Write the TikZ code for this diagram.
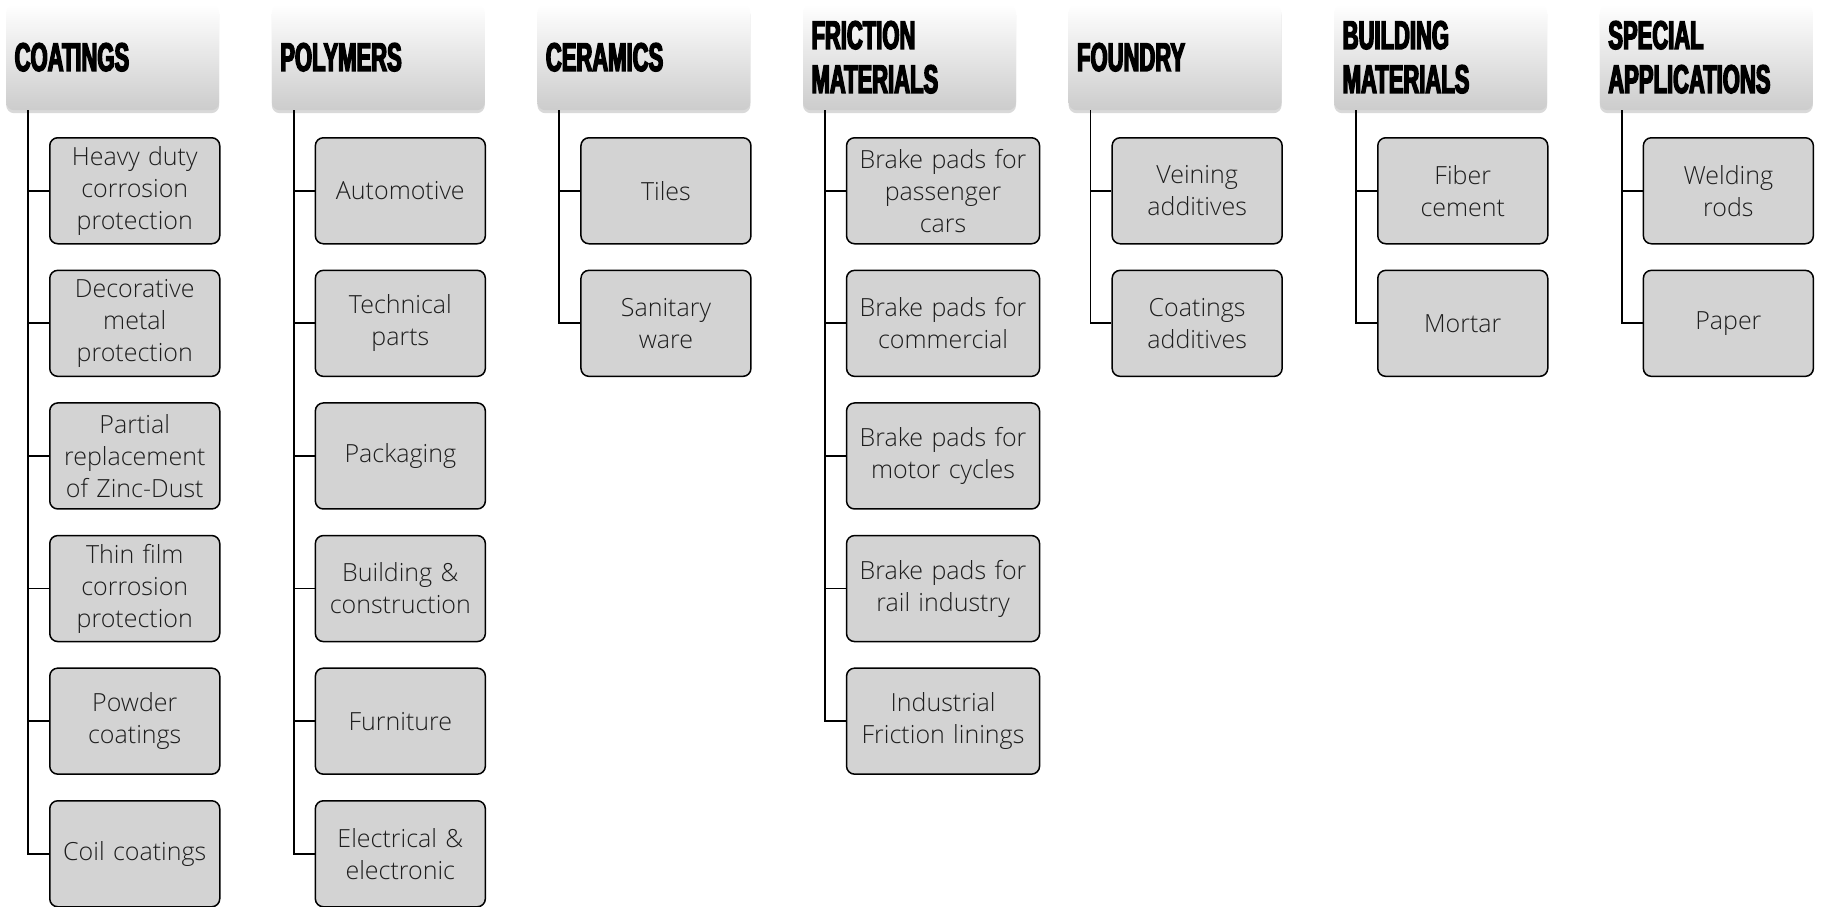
\documentclass[tikz,border=0pt]{standalone}
\usepackage{fontspec}
\IfFontExistsTF{Open Sans Light}{\setmainfont{Open Sans Light}}{\setmainfont{Open Sans}}
\newfontfamily\hdrfont[FakeStretch=0.55,FakeBold=3.5]{Liberation Sans}
\usetikzlibrary{shadows}
\definecolor{boxgray}{HTML}{D3D3D3}
\definecolor{txtgray}{HTML}{1E1E1E}
\tikzset{
  hdrbox/.style={rectangle, rounded corners=8pt, top color=white, bottom color=black!20,
    draw=none, minimum width=213pt, minimum height=106pt, text width=196pt, align=left,
    inner xsep=8pt, anchor=north west,
    drop shadow={shadow xshift=0pt, shadow yshift=-3pt, opacity=0.25, fill=black!60},
    font=\hdrfont\bfseries\fontsize{40}{44}\selectfont},
  itembox/.style={rectangle, rounded corners=8pt, fill=boxgray, draw=black, line width=1.5pt,
    minimum height=106pt, align=center, anchor=north west, text=txtgray, inner xsep=1pt,
    font=\fontsize{25}{32}\selectfont},
  link/.style={draw=black, line width=1.8pt}
}
\newcommand\catcol[5]{%
  \pgfmathsetmacro\xo{6+265.6*#1}
  \pgfmathsetmacro\xt{\xo+22}
  \pgfmathsetmacro\xc{\xo+43}
  \node[hdrbox] (h#1) at (\xo,-4) {#2};
  \coordinate (t#1) at (\xt,-110);
  \foreach \t [count=\k] in {#5} {
    \pgfmathsetmacro\yo{-137-132.6*(\k-1)}
    \node[itembox, minimum width=#3pt, text width=#4pt] (c#1-\k) at (\xc,\yo) {\t};
    \draw[link] (t#1) |- (c#1-\k.west);
  }
}
\begin{document}
\begin{tikzpicture}[x=1pt,y=1pt]
\useasboundingbox (0,0) rectangle (1821,-906);
\catcol{0}{COATINGS}{170}{166}{{Heavy duty\\corrosion\\protection},{Decorative\\metal\\protection},{Partial\\replacement\\of Zinc-Dust},{Thin film\\corrosion\\protection},{Powder\\coatings},{Coil coatings}}
\catcol{1}{POLYMERS}{170}{166}{{Automotive},{Technical\\parts},{Packaging},{Building \&\\construction},{Furniture},{Electrical \&\\electronic}}
\catcol{2}{CERAMICS}{170}{166}{{Tiles},{Sanitary\\ware}}
\catcol{3}{FRICTION\\MATERIALS}{193}{189}{{Brake pads for\\passenger\\cars},{Brake pads for\\commercial},{Brake pads for\\motor cycles},{Brake pads for\\rail industry},{Industrial\\Friction linings}}
\catcol{4}{FOUNDRY}{170}{166}{{Veining\\additives},{Coatings\\additives}}
\catcol{5}{BUILDING\\MATERIALS}{170}{166}{{Fiber\\cement},{Mortar}}
\catcol{6}{SPECIAL\\APPLICATIONS}{170}{166}{{Welding\\rods},{Paper}}
\end{tikzpicture}
\end{document}
